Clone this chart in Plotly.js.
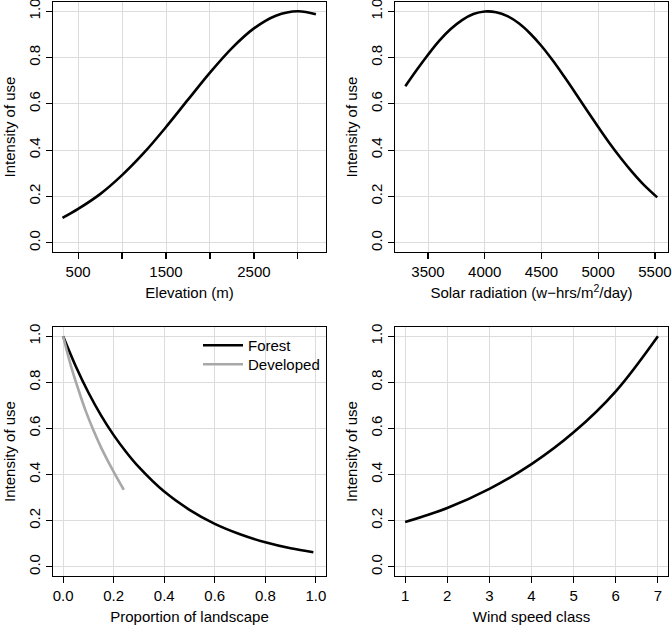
<!DOCTYPE html>
<html>
<head>
<meta charset="utf-8">
<script src="https://cdn.plot.ly/plotly-3.0.1.min.js"></script>
<style>html,body{margin:0;padding:0;background:#fff;}#chart{width:672px;height:629px;}</style>
</head>
<body>
<div id="chart"></div>
<script>
// ---- data ----
const elevX = [322, 500, 750, 1000, 1250, 1500, 1750, 2000, 2250, 2500, 2750, 3000, 3205];
const elevY = [0.107, 0.146, 0.21, 0.292, 0.389, 0.50, 0.618, 0.735, 0.841, 0.926, 0.981, 1.0, 0.987];

const solarX = [3300, 3400, 3500, 3600, 3700, 3800, 3900, 4000, 4100, 4200, 4300, 4400, 4500, 4600, 4700, 4800, 4900, 5000, 5100, 5200, 5300, 5400, 5520];
const solarY = [0.676, 0.746, 0.812, 0.873, 0.923, 0.962, 0.988, 0.999, 0.996, 0.979, 0.948, 0.904, 0.85, 0.787, 0.718, 0.646, 0.572, 0.50, 0.43, 0.365, 0.305, 0.251, 0.196];

const forestX = [0, 0.05, 0.1, 0.15, 0.2, 0.25, 0.3, 0.4, 0.5, 0.6, 0.7, 0.8, 0.9, 0.99];
const forestY = [1.0, 0.87, 0.756, 0.657, 0.571, 0.497, 0.432, 0.326, 0.247, 0.186, 0.141, 0.106, 0.080, 0.063];

const devX = [0, 0.03, 0.06, 0.09, 0.12, 0.15, 0.18, 0.21, 0.24];
const devY = [1.0, 0.875, 0.77, 0.674, 0.592, 0.518, 0.453, 0.392, 0.334];

const windX = [1, 2, 3, 4, 5, 6, 7];
const windY = [0.194, 0.255, 0.338, 0.445, 0.583, 0.761, 1.0];

const yTicks = [0, 0.2, 0.4, 0.6, 0.8, 1.0];
const elevTicks = [500, 1000, 1500, 2000, 2500, 3000];
const elevTickText = ['500', '', '1500', '', '2500', ''];
const solarTicks = [3500, 4000, 4500, 5000, 5500];
const propTicks = [0, 0.2, 0.4, 0.6, 0.8, 1.0];
const windTicks = [1, 2, 3, 4, 5, 6, 7];

const yTitle = 'Intensity of use';
const xTitles = ['Elevation (m)', 'Solar radiation (w\u2212hrs/m<sup>2</sup>/day)', 'Proportion of landscape', 'Wind speed class'];
const seriesNames = ['Forest', 'Developed'];

// ---- styling ----
const FONT = 'Liberation Sans, Arial, Helvetica, sans-serif';
const W = 672, H = 629;
const lineBlack = {color: '#000000', width: 2.6, shape: 'spline', smoothing: 1};
const lineGrey = {color: '#a8a8a8', width: 2.6, shape: 'spline', smoothing: 1};

function px(a, b, total) { return [a / total, b / total]; }
const colL = px(53, 326, W), colR = px(395, 668, W);
const rowT = [(H - 252) / H, (H - 2) / H];
const rowB = [(H - 576) / H, (H - 327) / H];

function xAxis(domain, anchor, range, tickvals, ticktext, title, fmt) {
  const ax = {
    domain: domain, anchor: anchor, range: range,
    tickmode: 'array', tickvals: tickvals,
    showline: true, mirror: true, linecolor: '#000', linewidth: 1.3,
    ticks: 'outside', ticklen: 6, tickwidth: 1.2, tickcolor: '#000',
    showgrid: true, gridcolor: '#dcdcdc', gridwidth: 1, zeroline: false,
    ticklabeloverflow: 'allow',
    tickfont: {family: FONT, size: 15, color: '#000'},
    title: {text: title, font: {family: FONT, size: 15, color: '#000'}, standoff: 8}
  };
  if (ticktext) ax.ticktext = ticktext;
  if (fmt) ax.tickformat = fmt;
  return ax;
}
function yAxis(domain, anchor) {
  return {
    domain: domain, anchor: anchor, range: [-0.04, 1.04],
    tickmode: 'array', tickvals: yTicks, tickformat: '.1f', tickangle: -90,
    showline: true, mirror: true, linecolor: '#000', linewidth: 1.3,
    ticks: 'outside', ticklen: 6, tickwidth: 1.2, tickcolor: '#000',
    showgrid: true, gridcolor: '#dcdcdc', gridwidth: 1, zeroline: false,
    ticklabeloverflow: 'allow',
    tickfont: {family: FONT, size: 15, color: '#000'},
    title: {text: yTitle, font: {family: FONT, size: 15, color: '#000'}, standoff: 6}
  };
}

const traces = [
  {x: elevX, y: elevY, xaxis: 'x', yaxis: 'y', mode: 'lines', line: lineBlack, showlegend: false},
  {x: solarX, y: solarY, xaxis: 'x2', yaxis: 'y2', mode: 'lines', line: lineBlack, showlegend: false},
  {x: forestX, y: forestY, xaxis: 'x3', yaxis: 'y3', mode: 'lines', line: lineBlack, name: seriesNames[0], showlegend: true, legend: 'legend'},
  {x: devX, y: devY, xaxis: 'x3', yaxis: 'y3', mode: 'lines', line: lineGrey, name: seriesNames[1], showlegend: true, legend: 'legend2'},
  {x: windX, y: windY, xaxis: 'x4', yaxis: 'y4', mode: 'lines', line: lineBlack, showlegend: false}
];

function legendAt(topPx) {
  return {
    x: 198 / W, y: (H - topPx) / H, xanchor: 'left', yanchor: 'top',
    bgcolor: 'rgba(0,0,0,0)', borderwidth: 0,
    font: {family: FONT, size: 15, color: '#000'},
    itemwidth: 40, tracegroupgap: 0
  };
}

const layout = {
  width: W, height: H,
  margin: {l: 0, r: 0, t: 0, b: 0},
  paper_bgcolor: '#fff', plot_bgcolor: '#fff',
  font: {family: FONT, size: 15, color: '#000'},
  xaxis: xAxis(colL, 'y', [214, 3320], elevTicks, elevTickText, xTitles[0]),
  yaxis: yAxis(rowT, 'x'),
  xaxis2: xAxis(colR, 'y2', [3209, 5615], solarTicks, null, xTitles[1]),
  yaxis2: yAxis(rowT, 'x2'),
  xaxis3: xAxis(colL, 'y3', [-0.04, 1.04], propTicks, null, xTitles[2], '.1f'),
  yaxis3: yAxis(rowB, 'x3'),
  xaxis4: xAxis(colR, 'y4', [0.76, 7.24], windTicks, null, xTitles[3]),
  yaxis4: yAxis(rowB, 'x4'),
  legend: legendAt(329),
  legend2: legendAt(348),
  showlegend: true
};

Plotly.newPlot('chart', traces, layout, {staticPlot: true, displayModeBar: false});
</script>
</body>
</html>
